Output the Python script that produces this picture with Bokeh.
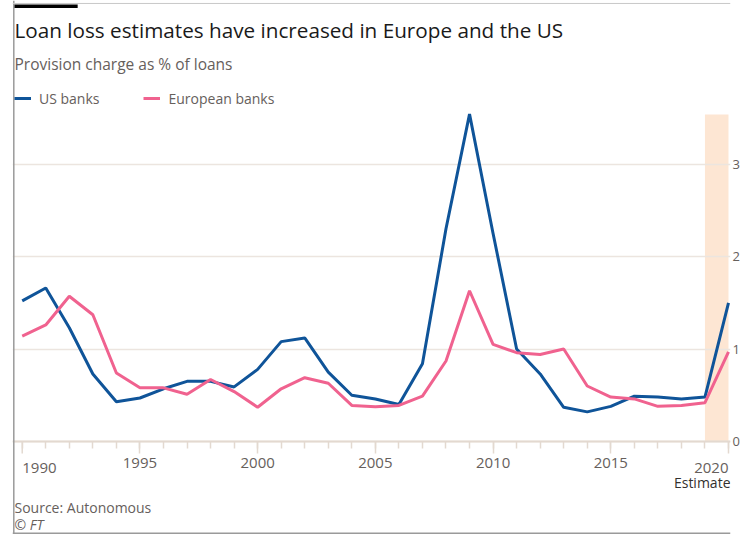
from bokeh.plotting import figure
from bokeh.models import (Range1d, FixedTicker, Legend, LegendItem, BoxAnnotation,
                          Label, Span)
from bokeh.embed import file_html
from bokeh.resources import INLINE

# ---- data -------------------------------------------------------------
years = list(range(1990, 2021))
us_banks = [1.52, 1.66, 1.23, 0.73, 0.43, 0.47, 0.57, 0.65, 0.65, 0.59,
            0.78, 1.08, 1.12, 0.75, 0.50, 0.46, 0.40, 0.84, 2.30, 3.54,
            2.25, 1.00, 0.73, 0.37, 0.32, 0.38, 0.49, 0.48, 0.46, 0.48,
            1.50]
european_banks = [1.14, 1.26, 1.57, 1.37, 0.74, 0.58, 0.58, 0.51, 0.67, 0.54,
                  0.37, 0.57, 0.69, 0.63, 0.39, 0.375, 0.39, 0.49, 0.87, 1.63,
                  1.05, 0.96, 0.94, 1.00, 0.60, 0.48, 0.46, 0.38, 0.39, 0.42,
                  0.97]
y_ticks = [0, 1, 2, 3]
x_major_ticks = [1990, 1995, 2000, 2005, 2010, 2015, 2020]
estimate_span = (2019, 2020)
estimate_label = "Estimate"

title_text = "Loan loss estimates have increased in Europe and the US"
subtitle_text = "Provision charge as % of loans"
source_text = "Source: Autonomous"
credit_text = "\u00a9 FT"

# ---- style ------------------------------------------------------------
FONT = "Open Sans"
GREY = "#66605c"
DARK = "#1a1a1a"
BLUE = "#0f5499"
PINK = "#f0628f"
BAND = "#fde6d3"
GRID = "#ece5df"
AXIS = "#e3d9d0"
FRAME = "#9a9a9a"

# the plotting frame covers the whole card; header/footer texts live inside it
X0, X1 = 1989.587, 2020.085
Y_MIN, Y_TOP = -1.006, 4.769
BAND_TOP = 3.535
TEXT_X = 1989.672
TICK_LEN = 0.13

p = figure(width=742, height=534, output_backend="svg", toolbar_location=None,
           x_range=Range1d(X0, X1), y_range=Range1d(Y_MIN, Y_TOP),
           y_axis_location="right",
           min_border_left=12, min_border_top=0, min_border_bottom=0,
           min_border_right=0)
p.outline_line_color = None
p.background_fill_color = "white"
p.border_fill_color = "white"

band = BoxAnnotation(left=estimate_span[0], right=estimate_span[1],
                     bottom=0, top=BAND_TOP,
                     fill_color=BAND, fill_alpha=1, line_color=None, level="image")
p.add_layout(band)

# card frame (thin grey rules) and FT black tag
p.add_layout(Span(location=1989.642, dimension="height", line_color=FRAME, line_width=1.5))
p.add_layout(Span(location=4.737, dimension="width", line_color="#c8c8c8", line_width=1))
p.add_layout(Span(location=-0.993, dimension="width", line_color=FRAME, line_width=1.5))
p.add_layout(BoxAnnotation(left=TEXT_X, right=1992.355, top=4.726, bottom=4.688,
                           fill_color="black", fill_alpha=1, line_color=None))

# long ticks at the first / last labelled year
edges = [x_major_ticks[0], x_major_ticks[-1]]
p.segment(x0=edges, y0=[0, 0], x1=edges, y1=[-TICK_LEN, -TICK_LEN],
          line_color=AXIS, line_width=1.5)

r_us = p.line(years, us_banks, line_color=BLUE, line_width=3)
r_eu = p.line(years, european_banks, line_color=PINK, line_width=3)

legend = Legend(items=[LegendItem(label="US banks", renderers=[r_us]),
                       LegendItem(label="European banks", renderers=[r_eu])],
                orientation="horizontal", location=(2, 426),
                margin=0, padding=0, spacing=44,
                glyph_width=17, glyph_height=20, label_height=20, label_standoff=8,
                label_text_font=FONT, label_text_font_size="14px",
                label_text_color=GREY, border_line_color=None,
                background_fill_alpha=0)
p.add_layout(legend)

# x axis drawn at y = 0 inside the frame
xa = p.xaxis[0]
xa.fixed_location = 0
xa.ticker = FixedTicker(ticks=x_major_ticks[1:-1], minor_ticks=years)
xa.axis_line_color = AXIS
xa.axis_line_width = 2
xa.major_tick_out = 12
xa.major_tick_in = 0
xa.minor_tick_out = 7
xa.minor_tick_in = 0
xa.major_tick_line_color = AXIS
xa.minor_tick_line_color = AXIS
xa.major_tick_line_width = 1.5
xa.minor_tick_line_width = 1.5
xa.major_label_text_font = FONT
xa.major_label_text_font_size = "15px"
xa.major_label_text_color = GREY
xa.major_label_standoff = 5

# y axis on the right
ya = p.yaxis[0]
ya.ticker = FixedTicker(ticks=y_ticks)
ya.axis_line_color = None
ya.major_tick_line_color = None
ya.minor_tick_line_color = None
ya.major_tick_out = 0
ya.major_tick_in = 0
ya.minor_tick_out = 0
ya.minor_tick_in = 0
ya.major_label_text_font = FONT
ya.major_label_text_font_size = "13px"
ya.major_label_text_color = GREY
ya.major_label_standoff = 2

p.xgrid.visible = False
p.ygrid.ticker = FixedTicker(ticks=y_ticks)
p.ygrid.grid_line_color = GRID
p.ygrid.grid_line_width = 1.5


def text(txt, x, y, size, color=GREY, align="left", style="normal"):
    p.add_layout(Label(x=x, y=y, text=txt, text_font=FONT, text_font_size=size,
                       text_color=color, text_align=align, text_baseline="middle",
                       text_font_style=style))


# edge x labels, FT style
text(str(x_major_ticks[0]), x_major_ticks[0], -0.292, "15px")
text(str(x_major_ticks[-1]), x_major_ticks[-1], -0.292, "15px", align="right")
text(estimate_label, X1, -0.443, "14px", color="#33302e", align="right")

# header
text(title_text, TEXT_X, 4.445, "20.7px", color=DARK)
text(subtitle_text, TEXT_X, 4.077, "15.5px")

# footer
text(source_text, TEXT_X, -0.714, "14px")
text(credit_text, TEXT_X, -0.898, "14px", style="italic")

open("out.html", "w").write(file_html(p, INLINE))
